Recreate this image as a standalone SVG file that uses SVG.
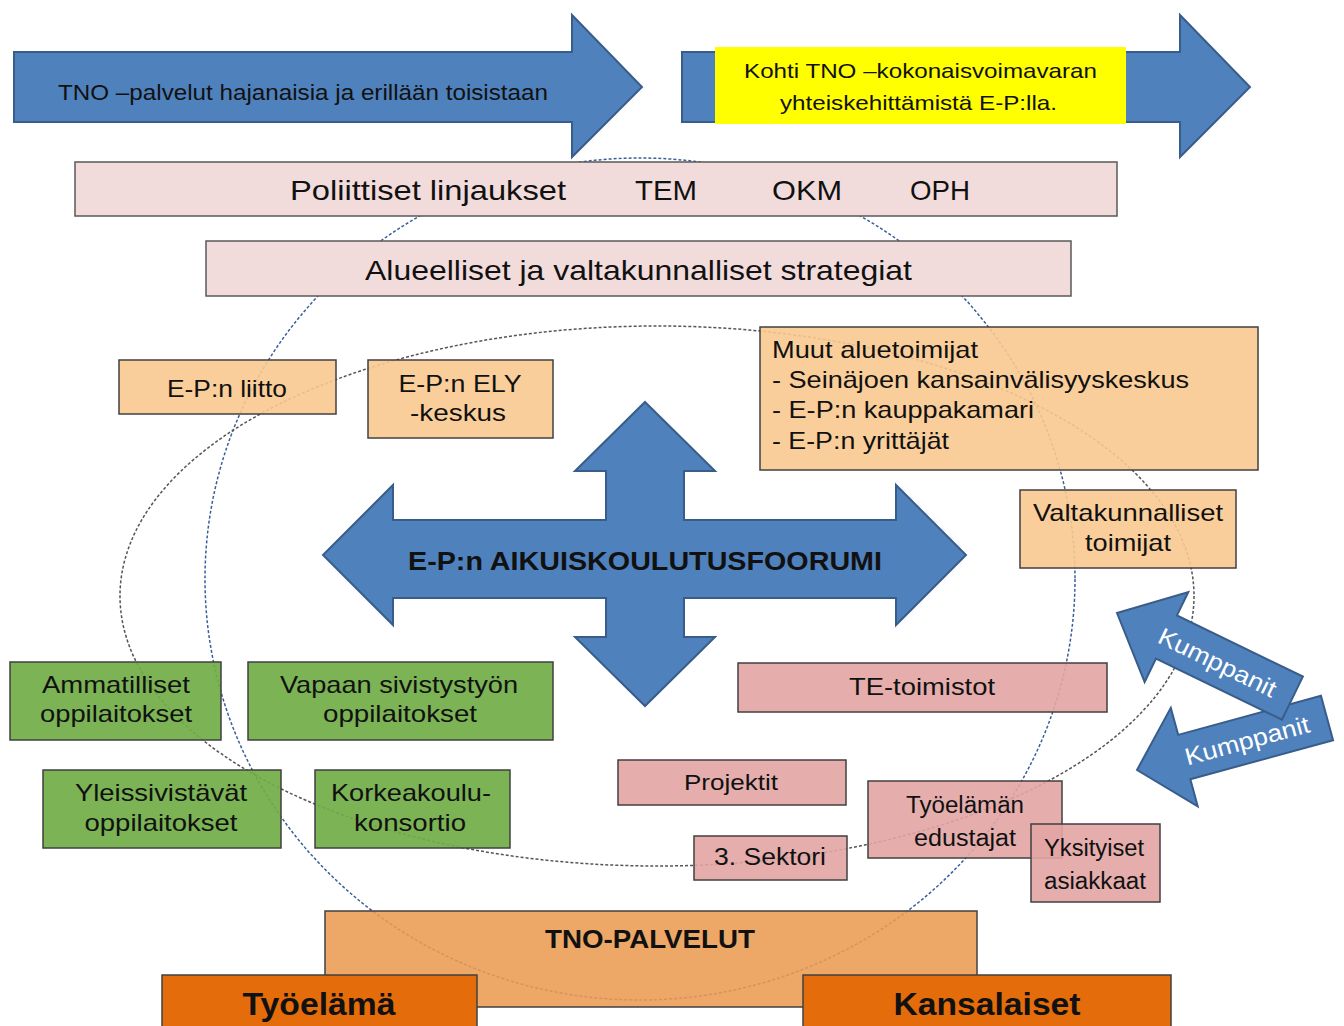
<svg xmlns="http://www.w3.org/2000/svg" width="1344" height="1026" viewBox="0 0 1344 1026">
<style>
text{font-family:"Liberation Sans",Arial,sans-serif;fill:#111;}
.arr{fill:#4f81bd;stroke:#385d8a;stroke-width:2;}
.pk{fill:#f2dcdb;stroke:#595959;stroke-width:1.5;}
.or{fill:#fac98f;stroke:#404040;stroke-width:1.5;fill-opacity:0.9;}
.gr{fill:#70ad47;stroke:#404040;stroke-width:1.5;fill-opacity:0.92;}
.rd{fill:#e2a5a4;stroke:#404040;stroke-width:1.5;fill-opacity:0.9;}
.t24{font-size:24px;}
.c{text-anchor:middle;}
.w{fill:#fff;}
</style>
<g id="connectors">
<ellipse id="circle-blue" cx="640" cy="579" rx="435" ry="421" fill="none" stroke="#3b5e9a" stroke-width="1.5" stroke-dasharray="3 2"/>
<ellipse id="circle-black" cx="657" cy="596" rx="537" ry="270" fill="none" stroke="#555" stroke-width="1.5" stroke-dasharray="3 2"/>
</g>
<g id="arrow-left">
<path class="arr" d="M14,52 H572 V15 L642,87 L572,157 V122 H14 Z"/>
<text x="58" y="100" font-size="22" textLength="490" lengthAdjust="spacingAndGlyphs">TNO –palvelut hajanaisia ja erillään toisistaan</text>
</g>
<g id="arrow-right">
<path class="arr" d="M682,52 H1180 V15 L1250,87 L1180,157 V122 H682 Z"/>
<rect x="715" y="47" width="411" height="77" fill="#ffff00"/>
<text x="744" y="78" font-size="21" textLength="353" lengthAdjust="spacingAndGlyphs">Kohti TNO –kokonaisvoimavaran</text>
<text x="780" y="110" font-size="21" textLength="277" lengthAdjust="spacingAndGlyphs">yhteiskehittämistä E-P:lla.</text>
</g>
<g id="poliittiset">
<rect class="pk" x="75" y="162" width="1042" height="54"/>
<text x="290" y="200" font-size="28" textLength="276" lengthAdjust="spacingAndGlyphs" fill="#222">Poliittiset linjaukset</text>
<text x="635" y="200" font-size="28" textLength="62" lengthAdjust="spacingAndGlyphs">TEM</text>
<text x="772" y="200" font-size="28" textLength="70" lengthAdjust="spacingAndGlyphs">OKM</text>
<text x="910" y="200" font-size="28" textLength="60" lengthAdjust="spacingAndGlyphs">OPH</text>
</g>
<g id="strategiat">
<rect class="pk" x="206" y="241" width="865" height="55"/>
<text x="365" y="280" font-size="28" textLength="547" lengthAdjust="spacingAndGlyphs">Alueelliset ja valtakunnalliset strategiat</text>
</g>
<g id="ep-liitto">
<rect class="or" x="119" y="360" width="217" height="54"/>
<text class="t24 c" x="227" y="397" textLength="120" lengthAdjust="spacingAndGlyphs">E-P:n liitto</text>
</g>
<g id="ep-ely">
<rect class="or" x="368" y="360" width="185" height="78"/>
<text class="t24 c" x="460" y="392" textLength="123" lengthAdjust="spacingAndGlyphs">E-P:n ELY</text>
<text class="t24 c" x="458" y="421" textLength="96" lengthAdjust="spacingAndGlyphs">-keskus</text>
</g>
<g id="muut">
<rect class="or" x="760" y="327" width="498" height="143"/>
<text class="t24" x="772" y="358" textLength="206" lengthAdjust="spacingAndGlyphs">Muut aluetoimijat</text>
<text class="t24" x="772" y="388" textLength="417" lengthAdjust="spacingAndGlyphs">- Seinäjoen kansainvälisyyskeskus</text>
<text class="t24" x="772" y="418" textLength="262" lengthAdjust="spacingAndGlyphs">- E-P:n kauppakamari</text>
<text class="t24" x="772" y="449" textLength="177" lengthAdjust="spacingAndGlyphs">- E-P:n yrittäjät</text>
</g>
<g id="valtakunnalliset">
<rect class="or" x="1020" y="490" width="216" height="78"/>
<text class="t24 c" x="1128" y="521" textLength="190" lengthAdjust="spacingAndGlyphs">Valtakunnalliset</text>
<text class="t24 c" x="1128" y="551" textLength="86" lengthAdjust="spacingAndGlyphs">toimijat</text>
</g>
<g id="forum">
<path class="arr" d="M645,402 L715,471 H684 V520 H896 V485 L966,555 L896,625 V598 H684 V637 H715 L645,706 L575,637 H606 V598 H393 V625 L323,555 L393,485 V520 H606 V471 H575 Z"/>
<text x="645" y="570" class="c" font-size="26" font-weight="bold" textLength="474" lengthAdjust="spacingAndGlyphs" fill="#1a1a1a">E-P:n AIKUISKOULUTUSFOORUMI</text>
</g>
<g id="ammatilliset">
<rect class="gr" x="10" y="662" width="211" height="78"/>
<text class="t24 c" x="116" y="693" textLength="148" lengthAdjust="spacingAndGlyphs">Ammatilliset</text>
<text class="t24 c" x="116" y="722" textLength="152" lengthAdjust="spacingAndGlyphs">oppilaitokset</text>
</g>
<g id="vapaan">
<rect class="gr" x="248" y="662" width="305" height="78"/>
<text class="t24 c" x="399" y="693" textLength="238" lengthAdjust="spacingAndGlyphs">Vapaan sivistystyön</text>
<text class="t24 c" x="400" y="722" textLength="154" lengthAdjust="spacingAndGlyphs">oppilaitokset</text>
</g>
<g id="yleissivistavat">
<rect class="gr" x="43" y="770" width="238" height="78"/>
<text class="t24 c" x="161" y="801" textLength="172" lengthAdjust="spacingAndGlyphs">Yleissivistävät</text>
<text class="t24 c" x="161" y="831" textLength="153" lengthAdjust="spacingAndGlyphs">oppilaitokset</text>
</g>
<g id="korkeakoulu">
<rect class="gr" x="315" y="770" width="195" height="78"/>
<text class="t24 c" x="411" y="801" textLength="160" lengthAdjust="spacingAndGlyphs">Korkeakoulu-</text>
<text class="t24 c" x="410" y="831" textLength="112" lengthAdjust="spacingAndGlyphs">konsortio</text>
</g>
<g id="te-toimistot">
<rect class="rd" x="738" y="663" width="369" height="49"/>
<text class="t24 c" x="922" y="695" textLength="146" lengthAdjust="spacingAndGlyphs">TE-toimistot</text>
</g>
<g id="projektit">
<rect class="rd" x="618" y="760" width="228" height="45"/>
<text class="c" x="731" y="790" font-size="22" textLength="94" lengthAdjust="spacingAndGlyphs">Projektit</text>
</g>
<g id="tyoelaman-edustajat">
<rect class="rd" x="868" y="781" width="194" height="77"/>
<text class="c" x="965" y="813" font-size="23" textLength="118" lengthAdjust="spacingAndGlyphs">Työelämän</text>
<text class="c" x="965" y="846" font-size="23" textLength="102" lengthAdjust="spacingAndGlyphs">edustajat</text>
</g>
<g id="sektori">
<rect class="rd" x="694" y="836" width="153" height="44"/>
<text class="c" x="770" y="865" font-size="23" textLength="112" lengthAdjust="spacingAndGlyphs">3. Sektori</text>
</g>
<g id="yksityiset">
<rect class="rd" x="1031" y="824" width="129" height="78"/>
<text class="c" x="1094" y="856" font-size="23" textLength="100" lengthAdjust="spacingAndGlyphs">Yksityiset</text>
<text class="c" x="1095" y="889" font-size="23" textLength="102" lengthAdjust="spacingAndGlyphs">asiakkaat</text>
</g>
<g id="kumppanit-2" transform="translate(1137,770) rotate(-15.3)">
<path class="arr" d="M0,0 L49,-51 V-23 H197 V23 H49 V51 Z"/>
<text class="c w" x="114" y="9" font-size="24" textLength="128" lengthAdjust="spacingAndGlyphs">Kumppanit</text>
</g>
<g id="kumppanit-1" transform="translate(1117,613) rotate(25.9)">
<path class="arr" d="M0,0 L55,-50 V-24 H195 V24 H55 V50 Z"/>
<text class="c w" x="112" y="9" font-size="24" textLength="128" lengthAdjust="spacingAndGlyphs">Kumppanit</text>
</g>
<g id="tno-palvelut">
<rect x="325" y="911" width="652" height="96" fill="#eb9b52" stroke="#404040" stroke-width="1.5" fill-opacity="0.88"/>
<text class="c" x="650" y="948" font-size="26" font-weight="bold" textLength="210" lengthAdjust="spacingAndGlyphs">TNO-PALVELUT</text>
</g>
<g id="tyoelama">
<rect x="162" y="975" width="315" height="60" fill="#e46c0a" stroke="#404040" stroke-width="1.5"/>
<text class="c" x="319" y="1015" font-size="32" font-weight="bold" textLength="153" lengthAdjust="spacingAndGlyphs">Työelämä</text>
</g>
<g id="kansalaiset">
<rect x="803" y="975" width="368" height="60" fill="#e46c0a" stroke="#404040" stroke-width="1.5"/>
<text class="c" x="987" y="1015" font-size="32" font-weight="bold" textLength="187" lengthAdjust="spacingAndGlyphs">Kansalaiset</text>
</g>
</svg>
